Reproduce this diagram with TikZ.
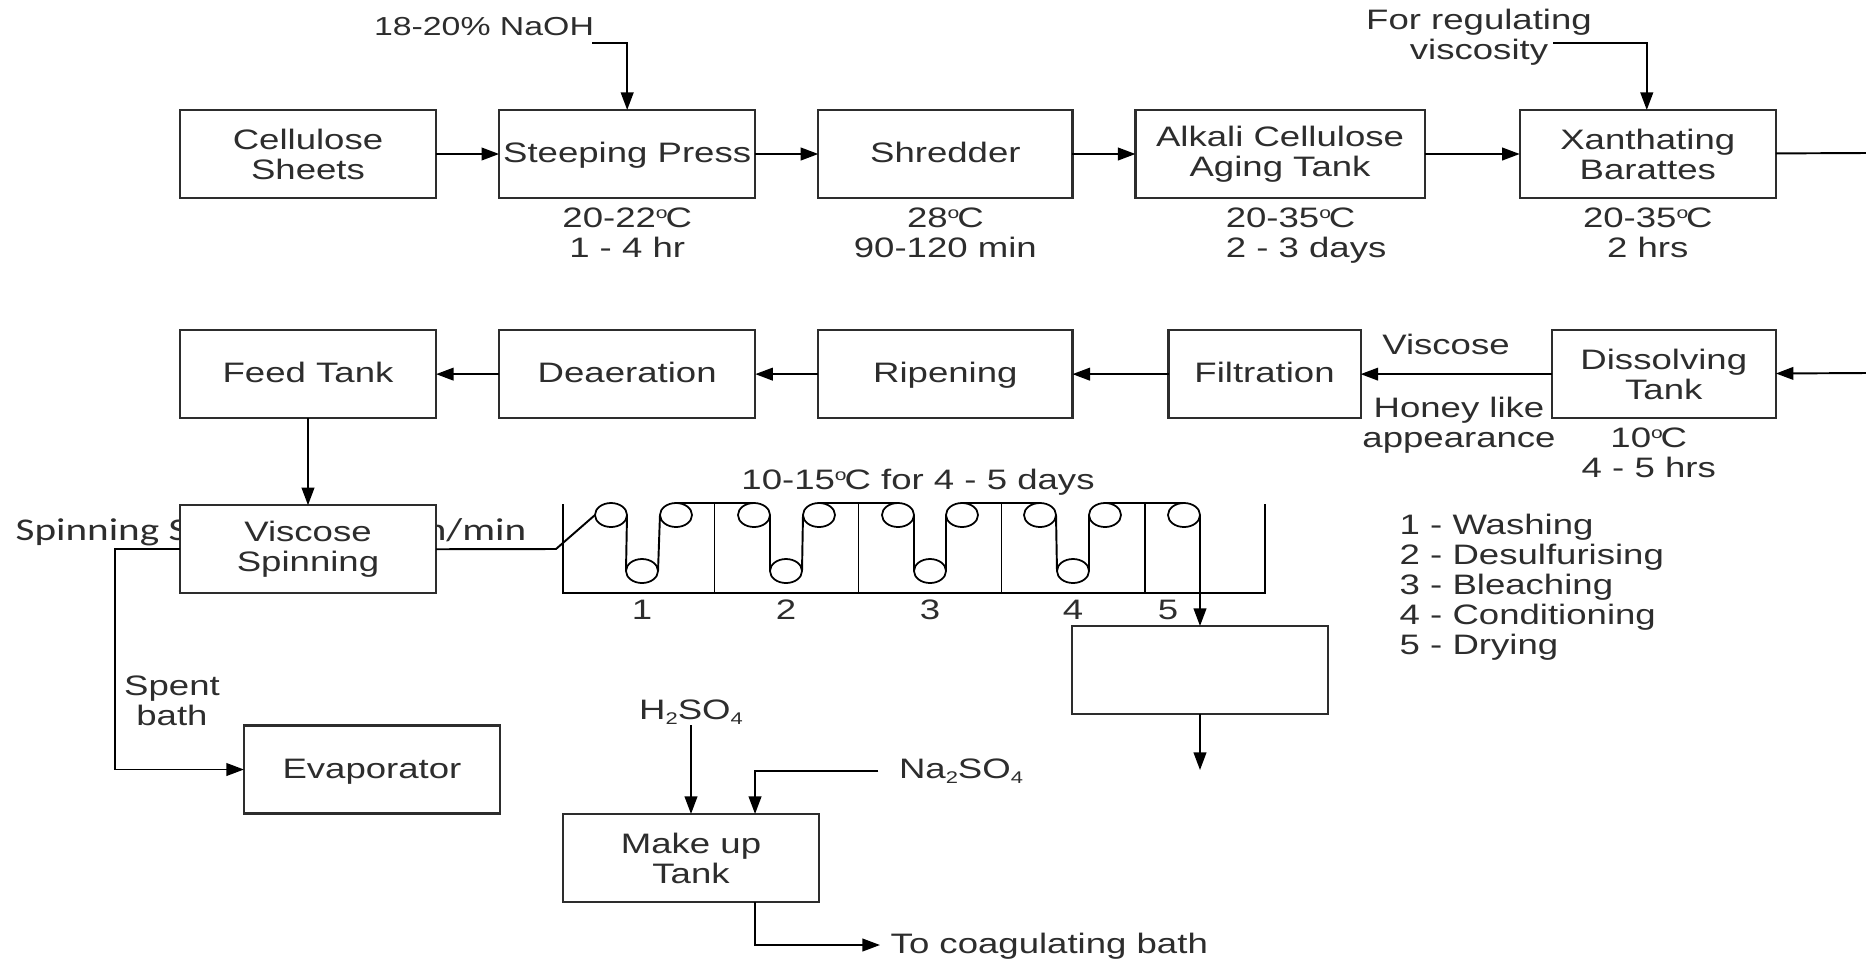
\documentclass[tikz,border=0pt]{standalone}
\usepackage{fontspec}
\setmainfont[FakeStretch=1.3]{Liberation Sans}
\newfontfamily\spinfont[FakeStretch=1.3]{Carlito}
\usepackage{xcolor}
\usetikzlibrary{shapes.geometric, arrows.meta, positioning}
\definecolor{inkgray}{RGB}{45,45,45}
\newcommand{\degC}{\raisebox{2.6pt}{\fontsize{4.6}{5}\selectfont o}\kern-0.6pt C}
\newcommand{\subnum}[1]{\raisebox{-1.4pt}{\fontsize{4.8}{5}\selectfont #1}}

\begin{document}
\begin{tikzpicture}[
        x=0.01cm, y=-0.01cm,
        font=\fontsize{8}{8.5}\selectfont,
        text=inkgray,
        block/.style={rectangle, draw=inkgray, fill=white, minimum width=2.56cm, minimum height=0.88cm, align=center, inner sep=0pt, outer sep=0pt, line width=0.6pt},
        single/.style={text height=6.5pt, text depth=1.5pt},
        note/.style={align=center, inner sep=0pt},
        roller/.style={ellipse, draw=black, minimum width=0.32cm, minimum height=0.24cm, inner sep=0pt, outer sep=0pt, line width=0.5pt},
        arrow/.style={-{Stealth[inset=0pt, length=5pt, width=3.6pt]}, line width=0.55pt, black},
        thread/.style={line width=0.55pt, black}
    ]
    \useasboundingbox (0,0) rectangle (1866,960);

    % Spinning speed label, partly behind the box
    \node[note, font=\spinfont\fontsize{9}{10}\selectfont, anchor=base west] (speedl) at (15,540) {Spinning S};
    \node[note, font=\spinfont\fontsize{9}{10}\selectfont, anchor=base east] (speedr) at (527,540) {n/min};

    % Top row
    \node[block] (cell) at (308,154) {Cellulose\\Sheets};
    \node[block, single, right=0.63cm of cell] (steep) {Steeping Press};
    \node[block, single, right=0.63cm of steep, minimum width=2.54cm] (shred) {Shredder};
    \node[block, right=0.63cm of shred, minimum width=2.89cm] (alkali) {Alkali Cellulose\\Aging Tank};
    \node[block, right=0.95cm of alkali] (xanth) {Xanthating\\Barattes};

    % Second row
    \node[block, single, below=1.32cm of cell] (feed) {Feed Tank};
    \node[block, single, below=1.32cm of steep] (deaer) {Deaeration};
    \node[block, single, below=1.32cm of shred, minimum width=2.54cm] (ripen) {Ripening};
    \node[block, below=1.32cm of xanth.south east, anchor=north east, minimum width=2.24cm] (dissolve) {Dissolving\\Tank};
    \node[block, single, left=1.91cm of dissolve, minimum width=1.92cm] (filt) {Filtration};

    % Lower boxes
    \node[block, below=0.87cm of feed] (spin) {Viscose\\Spinning};
    \node[block, single] (evap) at (372,769.5) {Evaporator};
    \node[block] (makeup) at (691,858) {Make up\\Tank};
    \node[block] (blank) at (1200,670) {};

    % Conditions
    \node[note, below=0.09cm of steep] (steepc) {20-22\degC\\1 - 4 hr};
    \node[note, below=0.09cm of shred] (shredc) {28\degC\\90-120 min};
    \node[note, align=left, below=0.09cm of alkali, xshift=0.26cm] (alkalic) {20-35\degC\\2 - 3 days};
    \node[note, below=0.09cm of xanth] (xanthc) {20-35\degC\\2 hrs};
    \node[note, below=0.09cm of dissolve, xshift=-0.15cm] (dissolvec) {10\degC\\4 - 5 hrs};

    % Feeds and labels
    \node[note, font=\fontsize{7.4}{8}\selectfont] (naoh) at (484,27) {18-20\% NaOH};
    \node[note] (reg) at (1479,37) {For regulating\\viscosity};
    \node[note] (visc) at (1446,344) {Viscose};
    \node[note] (honey) at (1459,425) {Honey like\\appearance};
    \node[note] (spent) at (172,701) {Spent\\bath};
    \node[note] (acid) at (691,712) {H\subnum{2}SO\subnum{4}};
    \node[note] (salt) at (961,771) {Na\subnum{2}SO\subnum{4}};
    \node[note, single, anchor=west] (bath) at (890,945) {To coagulating bath};
    \node[note] (tanklabel) at (918,482) {10-15\degC\ for 4 - 5 days};
    \node[note, anchor=west, align=left] (legend) at (1399,587) {1 - Washing\\2 - Desulfurising\\3 - Bleaching\\4 - Conditioning\\5 - Drying};

    % Free ends
    \coordinate (naohend) at (592,43);
    \coordinate (regend) at (1553,43);
    \coordinate (xanthout) at (1866,153);
    \coordinate (dissolvein) at (1866,373);
    \coordinate (spentturn) at (115,769.5);
    \coordinate (tankin) at (556,549);
    \coordinate (blankout) at (1200,770);

    % Arrows
    \draw[arrow] (cell) -- (steep);
    \draw[arrow] (steep) -- (shred);
    \draw[arrow] (shred) -- (alkali);
    \draw[arrow] (alkali) -- (xanth);
    \draw[thread] (xanth) -- (xanthout);
    \draw[arrow] (dissolvein) -- (dissolve);
    \draw[arrow] (dissolve) -- (filt);
    \draw[arrow] (filt) -- (ripen);
    \draw[arrow] (ripen) -- (deaer);
    \draw[arrow] (deaer) -- (feed);
    \draw[arrow] (feed) -- (spin);
    \draw[arrow] (naohend) -| (steep.north);
    \draw[arrow] (regend) -| ([xshift=-0.01cm]xanth.north);
    \draw[arrow] (spin.west) -| (spentturn) -- (evap.west);
    \draw[arrow] (acid) -- (makeup);
    \draw[arrow] ([xshift=-0.2cm]salt.west) -| ([xshift=0.64cm]makeup.north);
    \draw[arrow] ([xshift=0.64cm]makeup.south) |- ([xshift=-0.1cm]bath.west);
    \draw[arrow] (blank.south) -- (blankout);

    % Washing tank
    \draw[thread] (563,504) -- (563,593) -- (1265,593) -- (1265,504);
    \foreach \i/\px in {1/714.5, 2/858.5, 3/1001.5, 4/1145}
        \draw[thread] (\px,504) -- (\px,593);
    \foreach \i/\px in {1/611, 2/676, 3/754, 4/819, 5/898, 6/962, 7/1040, 8/1105, 9/1184}
        \node[roller] (top\i) at (\px,515) {};
    \foreach \i/\px in {1/642, 2/786, 3/930, 4/1073}{
        \node[roller] (low\i) at (\px,571) {};
        \node[note] (num\i) at (\px,610) {\i};
    }
    \node[note] (num5) at (1168,610) {5};

    % Thread through the rollers
    \draw[thread] (spin.east) -- (tankin) -- (top1.west);
    \draw[thread] (top1.east) -- (low1.west);
    \draw[thread] (low1.east) -- (top2.west);
    \draw[thread] (top2.north) -- (top3.north);
    \draw[thread] (top3.east) -- (low2.west);
    \draw[thread] (low2.east) -- (top4.west);
    \draw[thread] (top4.north) -- (top5.north);
    \draw[thread] (top5.east) -- (low3.west);
    \draw[thread] (low3.east) -- (top6.west);
    \draw[thread] (top6.north) -- (top7.north);
    \draw[thread] (top7.east) -- (low4.west);
    \draw[thread] (low4.east) -- (top8.west);
    \draw[thread] (top8.north) -- (top9.north);
    \draw[arrow] (top9.east) -- (blank.north);

    \end{tikzpicture}
\end{document}
